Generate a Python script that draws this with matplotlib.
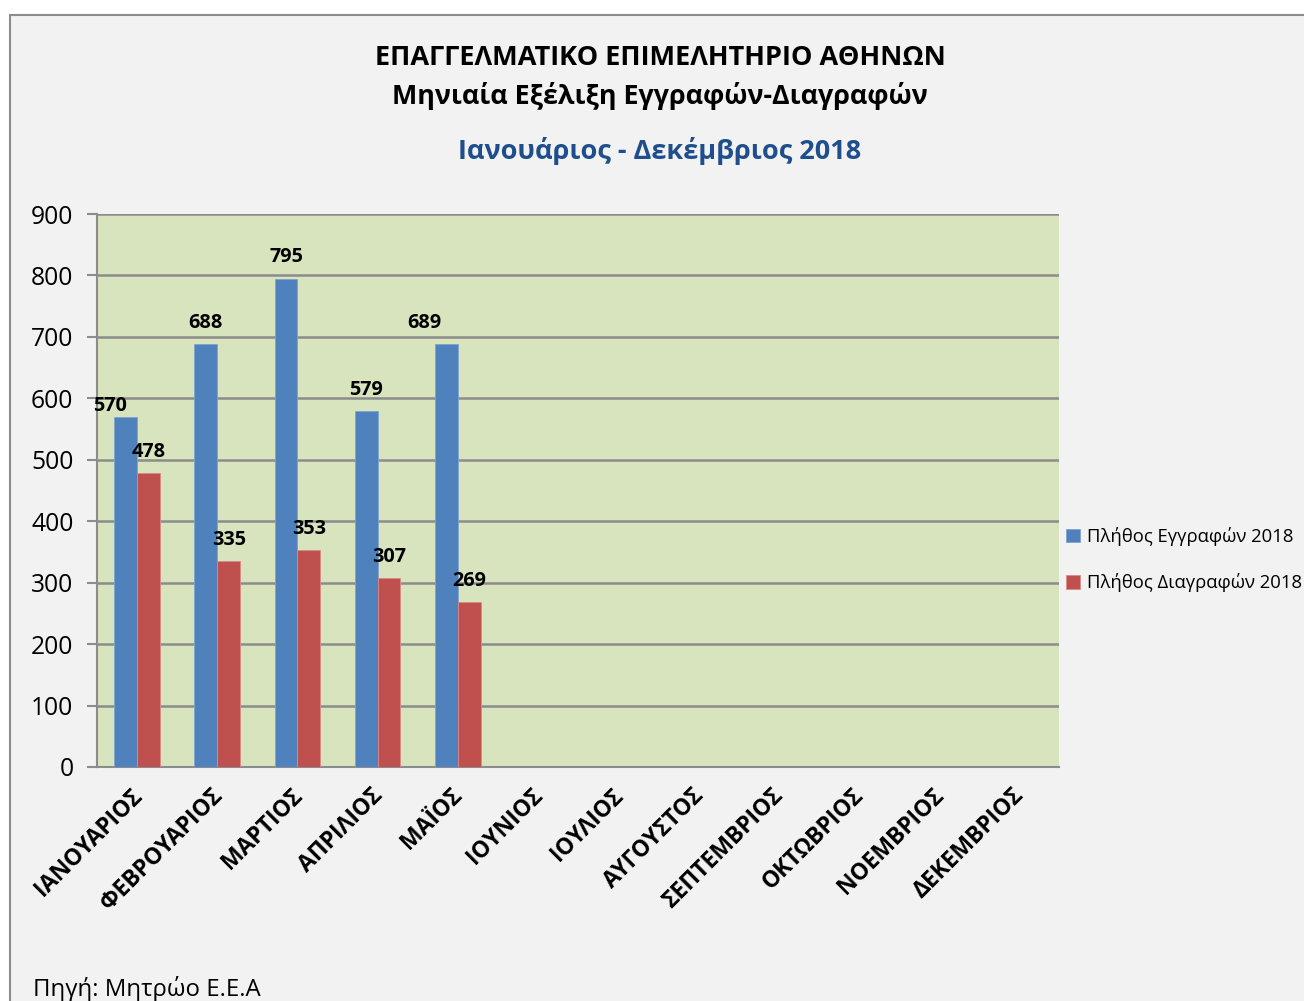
import matplotlib
matplotlib.use("Agg")
import matplotlib.pyplot as plt
from matplotlib.patches import Rectangle
from matplotlib.transforms import ScaledTranslation
import numpy as np

plt.rcParams['font.family'] = ['Open Sans', 'DejaVu Sans']

months = ["ΙΑΝΟΥΑΡΙΟΣ", "ΦΕΒΡΟΥΑΡΙΟΣ", "ΜΑΡΤΙΟΣ", "ΑΠΡΙΛΙΟΣ", "ΜΑΪΟΣ", "ΙΟΥΝΙΟΣ",
          "ΙΟΥΛΙΟΣ", "ΑΥΓΟΥΣΤΟΣ", "ΣΕΠΤΕΜΒΡΙΟΣ", "ΟΚΤΩΒΡΙΟΣ", "ΝΟΕΜΒΡΙΟΣ", "ΔΕΚΕΜΒΡΙΟΣ"]
registrations = [570, 688, 795, 579, 689]
deletions = [478, 335, 353, 307, 269]
yticks = [0, 100, 200, 300, 400, 500, 600, 700, 800, 900]
series_names = ["Πλήθος Εγγραφών 2018", "Πλήθος Διαγραφών 2018"]

title1 = "ΕΠΑΓΓΕΛΜΑΤΙΚΟ ΕΠΙΜΕΛΗΤΗΡΙΟ ΑΘΗΝΩΝ"
title2 = "Μηνιαία Εξέλιξη Εγγραφών-Διαγραφών"
subtitle = "Ιανουάριος - Δεκέμβριος 2018"
source = "Πηγή: Μητρώο Ε.Ε.Α"

W, H = 1304, 1001
fig = plt.figure(figsize=(W / 100, H / 100), dpi=100)
fig.patch.set_facecolor("white")

# chart frame
frame = Rectangle((10 / W, -0.01), 1.02, 1 - 15 / H + 0.01, transform=fig.transFigure,
                  facecolor="#F2F2F2", edgecolor="#8C8C8C", linewidth=1.5, zorder=-10)
fig.patches.append(frame)

ax = fig.add_axes([97 / W, 1 - 767 / H, (1059 - 97) / W, (767 - 214) / H])
ax.set_zorder(1)
ax.set_facecolor("#D7E4BD")

x = np.arange(len(months))
w = 1 / 3.5
blue = "#4F81BD"
red = "#C0504D"
xr = x[:len(registrations)]
ax.bar(xr - w / 2, registrations, w, color=blue, edgecolor="#7FA3D0", linewidth=0.6,
       label=series_names[0], zorder=3)
ax.bar(xr + w / 2, deletions, w, color=red, edgecolor="#D88A88", linewidth=0.6,
       label=series_names[1], zorder=3)

# data labels
lab_kw = dict(fontsize=14.3, fontweight="bold", color="black", ha="center", va="bottom", zorder=5)
for i, v in enumerate(registrations):
    dx, dy = 0, 18
    if i == 0:
        dx, dy = -0.19, 2
    if i == 4:
        dx = -0.27
    ax.text(xr[i] - w / 2 + dx, v + dy, str(v), **lab_kw)
for i, v in enumerate(deletions):
    ax.text(xr[i] + w / 2, v + 18, str(v), **lab_kw)

ax.set_xlim(-0.5, len(months) - 0.5)
ax.set_ylim(0, 900)
ax.set_yticks(yticks)
ax.set_yticklabels([str(t) for t in yticks], fontsize=17.7)
ax.yaxis.grid(True, color="#8C8C8C", linewidth=1.8, zorder=1)
ax.set_axisbelow(True)
ax.tick_params(axis="y", length=7, color="#8C8C8C", width=1.5, pad=10)
ax.set_xticks(x)
ax.set_xticklabels(months, rotation=45, ha="right", rotation_mode="anchor",
                   fontsize=16.5, fontweight="bold")
ax.tick_params(axis="x", length=0, pad=12)
shift = ScaledTranslation(-7 / 100, 0, fig.dpi_scale_trans)
for lbl in ax.get_xticklabels():
    lbl.set_transform(lbl.get_transform() + shift)
for s in ["top", "right"]:
    ax.spines[s].set_visible(False)
for s in ["left", "bottom"]:
    ax.spines[s].set_color("#8C8C8C")
    ax.spines[s].set_linewidth(1.5)

ax.legend(loc="center left", bbox_to_anchor=(1.0, 0.375), frameon=False,
          fontsize=13.3, handlelength=0.75, handleheight=0.75, handletextpad=0.35,
          labelspacing=1.5, borderaxespad=0.0)

fig.text(660 / W, 1 - 58 / H, title1, ha="center", va="center", fontsize=19.5, fontweight="bold")
fig.text(660 / W, 1 - 96 / H, title2, ha="center", va="center", fontsize=19.4, fontweight="bold")
fig.text(660 / W, 1 - 151 / H, subtitle, ha="center", va="center", fontsize=19.5,
         fontweight="bold", color="#1F4E8C")
fig.text(33 / W, 1 - 989 / H, source, ha="left", va="center", fontsize=17.3)

fig.savefig("out.png", dpi=100, facecolor=fig.get_facecolor())
